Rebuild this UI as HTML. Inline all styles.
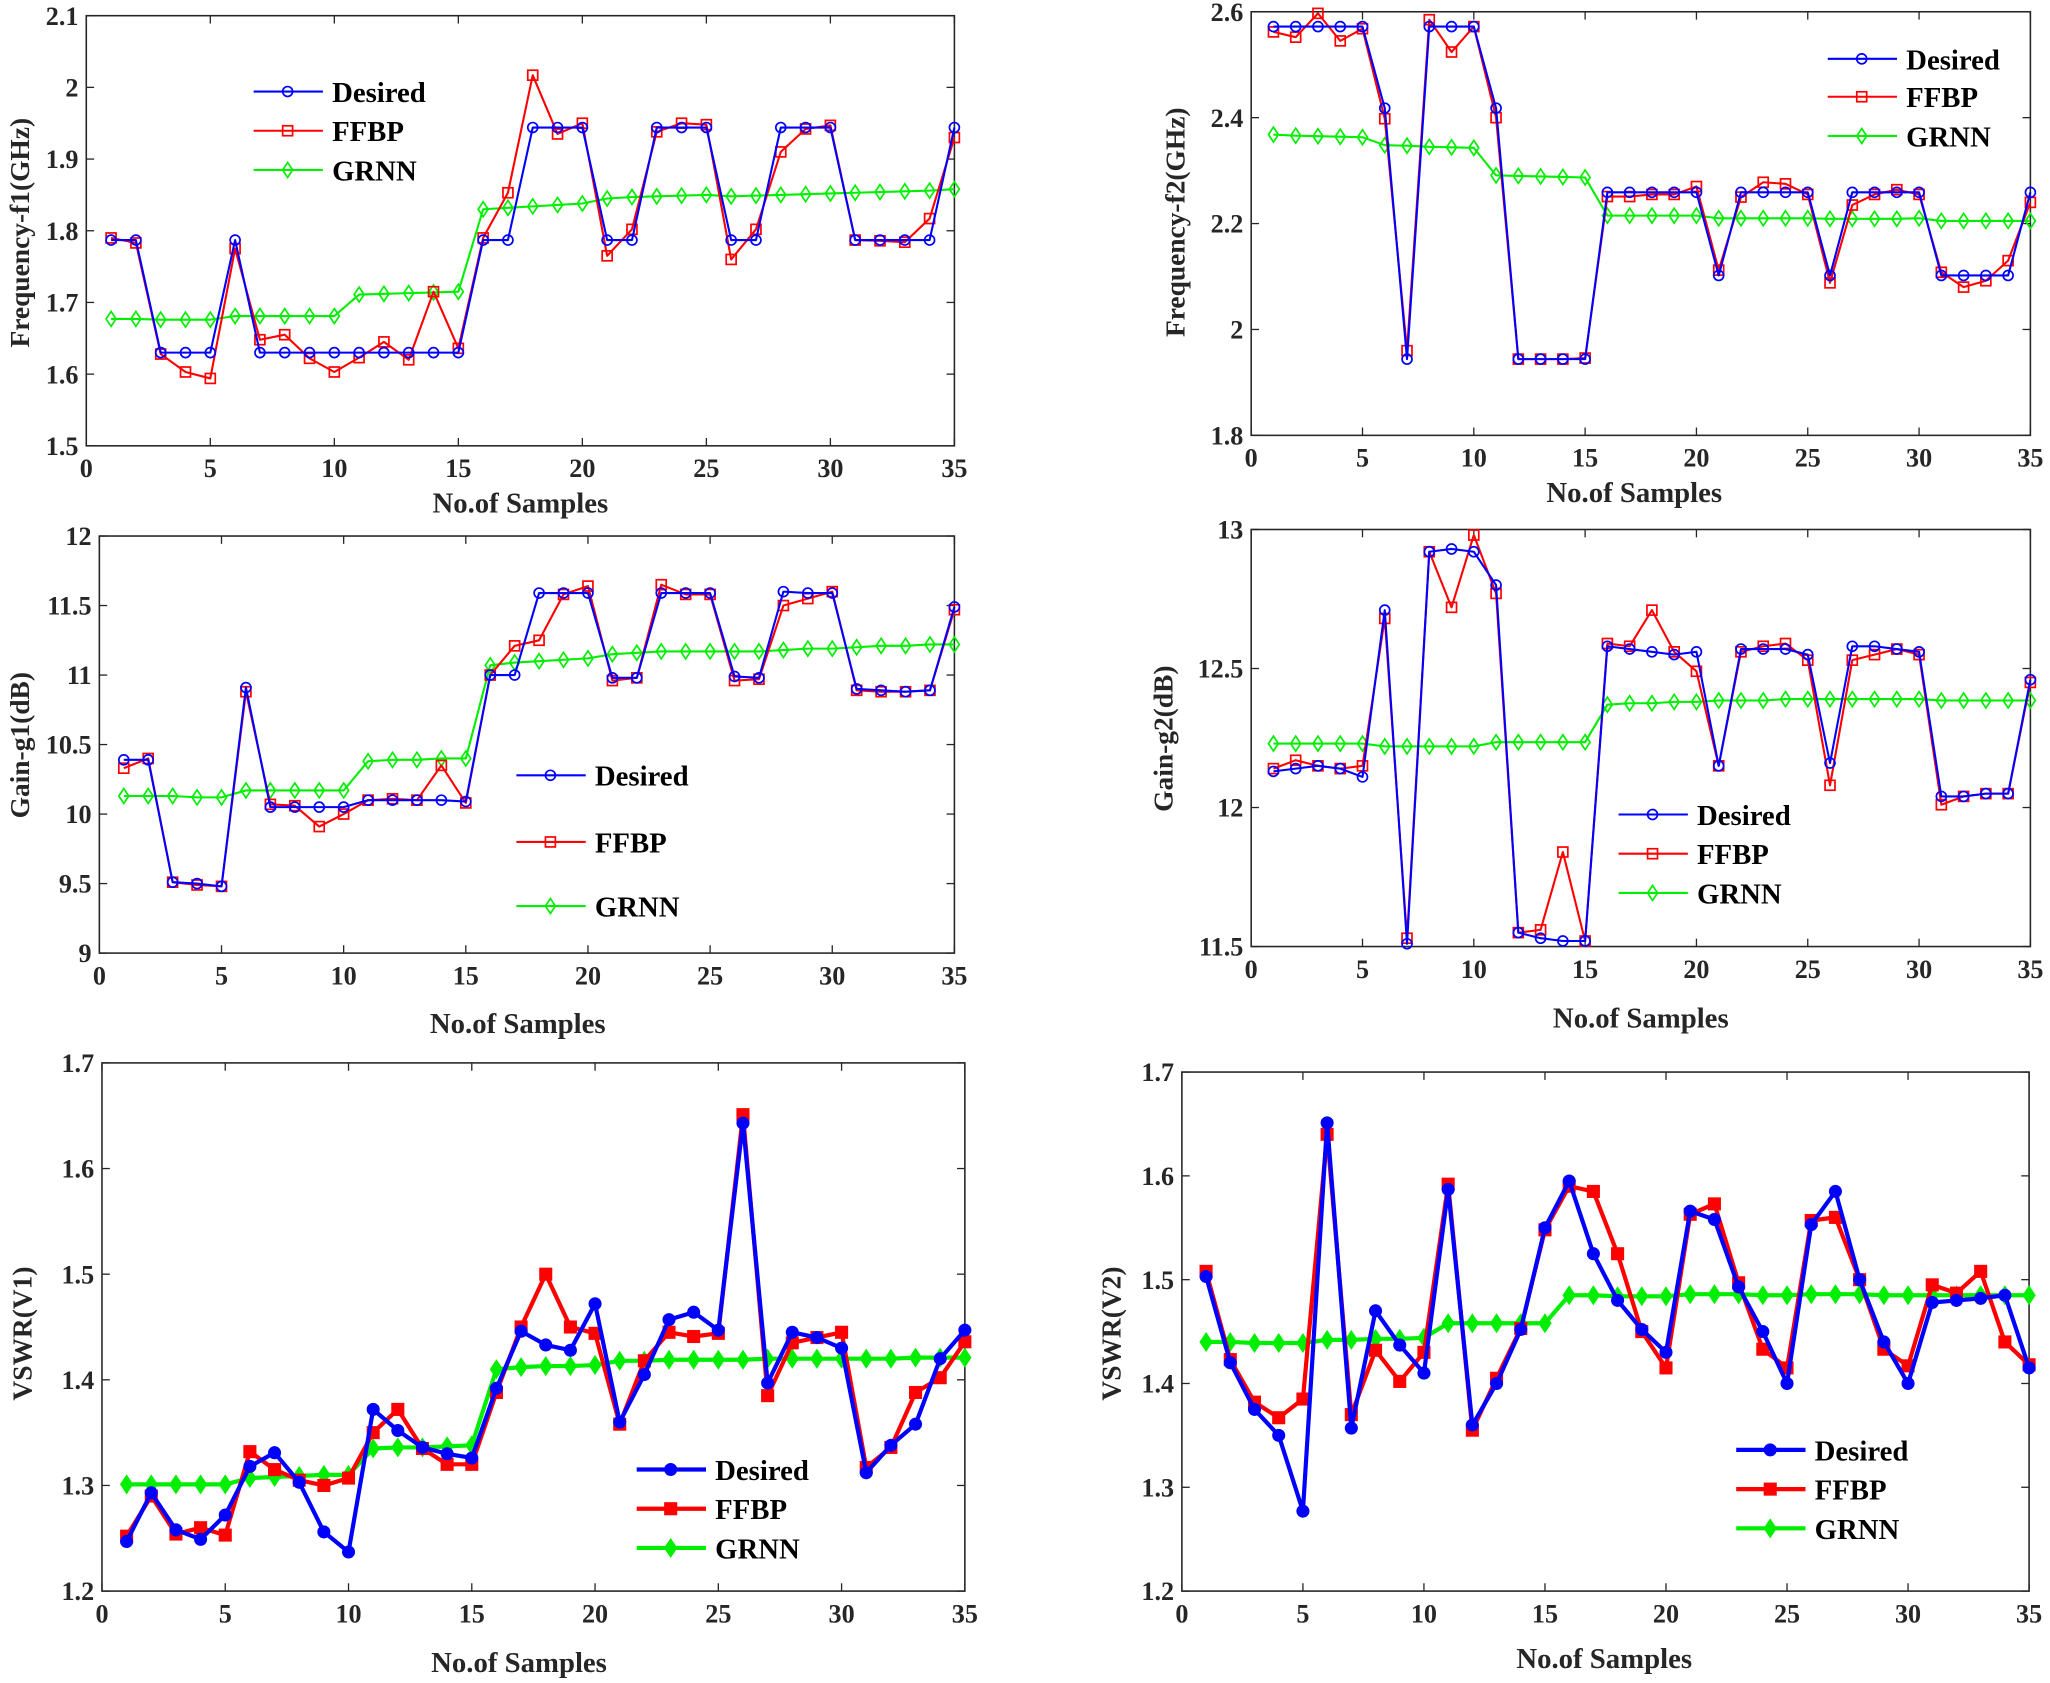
<!DOCTYPE html>
<html><head><meta charset="utf-8"><style>
html,body{margin:0;padding:0;background:#fff;}
svg{display:block;font-family:"Liberation Serif",serif;font-weight:bold;}
</style></head><body>
<svg id="fig" xmlns="http://www.w3.org/2000/svg" width="2050" height="1683" viewBox="0 0 1568 1287.3" preserveAspectRatio="none"></svg>
<script>
const xCats = [1,2,3,4,5,6,7,8,9,10,11,12,13,14,15,16,17,18,19,20,21,22,23,24,25,26,27,28,29,30,31,32,33,34,35];
const xTicks = [0,5,10,15,20,25,30,35];
const seriesNames = ["Desired","FFBP","GRNN"];

const f1Desired = [1.787,1.787,1.63,1.63,1.63,1.787,1.63,1.63,1.63,1.63,1.63,1.63,1.63,1.63,1.63,1.787,1.787,1.944,1.944,1.944,1.787,1.787,1.944,1.944,1.944,1.787,1.787,1.944,1.944,1.944,1.787,1.787,1.787,1.787,1.944];
const f1Ffbp = [1.79,1.783,1.628,1.603,1.594,1.775,1.648,1.655,1.622,1.603,1.623,1.645,1.62,1.715,1.636,1.79,1.853,2.017,1.935,1.95,1.765,1.802,1.938,1.95,1.948,1.76,1.802,1.91,1.942,1.947,1.787,1.786,1.784,1.817,1.93];
const f1Grnn = [1.677,1.677,1.676,1.676,1.676,1.681,1.681,1.681,1.681,1.681,1.711,1.712,1.713,1.714,1.715,1.83,1.832,1.834,1.836,1.838,1.845,1.847,1.848,1.849,1.85,1.848,1.849,1.85,1.851,1.852,1.853,1.854,1.855,1.856,1.858];
const f1Ticks = [1.5,1.6,1.7,1.8,1.9,2,2.1];

const f2Desired = [2.572,2.572,2.572,2.572,2.572,2.418,1.944,2.572,2.572,2.572,2.418,1.944,1.944,1.944,1.944,2.259,2.259,2.259,2.259,2.259,2.102,2.259,2.259,2.259,2.259,2.102,2.259,2.259,2.259,2.259,2.102,2.102,2.102,2.102,2.259];
const f2Ffbp = [2.562,2.552,2.597,2.545,2.568,2.398,1.96,2.585,2.524,2.572,2.40,1.944,1.944,1.944,1.946,2.251,2.251,2.255,2.255,2.27,2.112,2.25,2.278,2.275,2.255,2.088,2.235,2.255,2.264,2.255,2.108,2.08,2.092,2.13,2.24];
const f2Grnn = [2.368,2.366,2.365,2.364,2.363,2.348,2.347,2.345,2.344,2.343,2.291,2.29,2.289,2.288,2.287,2.215,2.215,2.215,2.215,2.215,2.21,2.21,2.21,2.21,2.21,2.209,2.209,2.209,2.209,2.21,2.205,2.205,2.205,2.205,2.205];
const f2Ticks = [1.8,2,2.2,2.4,2.6];

const g1Desired = [10.39,10.39,9.51,9.5,9.48,10.91,10.05,10.05,10.05,10.05,10.1,10.1,10.1,10.1,10.09,11.0,11.0,11.59,11.59,11.59,10.98,10.98,11.59,11.59,11.59,10.99,10.98,11.6,11.59,11.59,10.9,10.89,10.88,10.89,11.49];
const g1Ffbp = [10.33,10.4,9.51,9.49,9.48,10.88,10.07,10.06,9.91,10.0,10.1,10.11,10.1,10.35,10.08,11.0,11.21,11.25,11.58,11.64,10.96,10.98,11.65,11.58,11.58,10.96,10.97,11.5,11.55,11.6,10.89,10.88,10.88,10.89,11.47];
const g1Grnn = [10.13,10.13,10.13,10.12,10.12,10.17,10.17,10.17,10.17,10.17,10.38,10.39,10.39,10.4,10.4,11.07,11.09,11.1,11.11,11.12,11.15,11.16,11.17,11.17,11.17,11.17,11.17,11.18,11.19,11.19,11.2,11.21,11.21,11.22,11.22];
const g1Ticks = [9,9.5,10,10.5,11,11.5,12];

const g2Desired = [12.13,12.14,12.15,12.14,12.11,12.71,11.51,12.92,12.93,12.92,12.8,11.55,11.53,11.52,11.52,12.58,12.57,12.56,12.55,12.56,12.15,12.57,12.57,12.57,12.55,12.16,12.58,12.58,12.57,12.56,12.04,12.04,12.05,12.05,12.46];
const g2Ffbp = [12.14,12.17,12.15,12.14,12.15,12.68,11.53,12.92,12.72,12.98,12.77,11.55,11.56,11.84,11.52,12.59,12.58,12.71,12.56,12.49,12.15,12.56,12.58,12.59,12.53,12.08,12.53,12.55,12.57,12.55,12.01,12.04,12.05,12.05,12.45];
const g2Grnn = [12.23,12.23,12.23,12.23,12.23,12.22,12.22,12.22,12.22,12.22,12.235,12.235,12.235,12.235,12.235,12.37,12.375,12.375,12.38,12.38,12.385,12.385,12.385,12.39,12.39,12.39,12.39,12.39,12.39,12.39,12.385,12.385,12.385,12.385,12.385];
const g2Ticks = [11.5,12,12.5,13];

const v1Desired = [1.247,1.293,1.258,1.249,1.272,1.318,1.331,1.303,1.256,1.237,1.372,1.352,1.336,1.33,1.326,1.392,1.446,1.433,1.428,1.472,1.36,1.405,1.457,1.464,1.447,1.643,1.397,1.445,1.44,1.43,1.312,1.338,1.358,1.42,1.447];
const v1Ffbp = [1.252,1.29,1.254,1.26,1.253,1.332,1.315,1.305,1.3,1.307,1.35,1.372,1.335,1.32,1.32,1.388,1.45,1.5,1.45,1.444,1.358,1.418,1.445,1.441,1.444,1.651,1.385,1.435,1.44,1.445,1.317,1.336,1.388,1.402,1.436];
const v1Grnn = [1.301,1.301,1.301,1.301,1.301,1.307,1.308,1.309,1.31,1.31,1.335,1.336,1.336,1.337,1.338,1.41,1.412,1.413,1.413,1.414,1.418,1.418,1.419,1.419,1.419,1.419,1.42,1.42,1.42,1.42,1.42,1.42,1.421,1.421,1.421];
const v1Ticks = [1.2,1.3,1.4,1.5,1.6,1.7];

const v2Desired = [1.503,1.42,1.375,1.35,1.277,1.651,1.357,1.47,1.437,1.41,1.587,1.36,1.4,1.452,1.55,1.595,1.525,1.48,1.452,1.43,1.566,1.558,1.493,1.45,1.4,1.553,1.585,1.5,1.44,1.4,1.478,1.48,1.482,1.485,1.415];
const v2Ffbp = [1.508,1.423,1.382,1.367,1.385,1.64,1.37,1.432,1.402,1.43,1.592,1.355,1.405,1.453,1.548,1.59,1.585,1.525,1.45,1.415,1.563,1.573,1.497,1.433,1.415,1.557,1.56,1.5,1.433,1.417,1.495,1.487,1.508,1.44,1.418];
const v2Grnn = [1.44,1.44,1.439,1.439,1.439,1.442,1.442,1.443,1.443,1.444,1.458,1.458,1.458,1.458,1.458,1.485,1.485,1.484,1.484,1.484,1.486,1.486,1.486,1.485,1.485,1.486,1.486,1.486,1.485,1.485,1.485,1.485,1.485,1.485,1.485];
const v2Ticks = [1.2,1.3,1.4,1.5,1.6,1.7];

const NS = "http://www.w3.org/2000/svg";
const svg = document.getElementById('fig');
function mk(tag, attrs, parent){const e=document.createElementNS(NS,tag);for(const k in attrs)e.setAttribute(k,attrs[k]);(parent||svg).appendChild(e);return e;}

const colors = ["#0000ff","#ff0000","#00ee00"];

function marker(g, type, cx, cy, color, filled, r){
  let e;
  if(type===0){ e=mk('circle',{cx:cx,cy:cy,r:r,fill:filled?color:'none',stroke:color,'stroke-width':filled?1:1.3},g); }
  else if(type===1){ e=mk('rect',{x:cx-r,y:cy-r,width:2*r,height:2*r,fill:filled?color:'none',stroke:color,'stroke-width':filled?1:1.3},g); }
  else { e=mk('polygon',{points:`${cx},${cy-r*1.5} ${cx+r},${cy} ${cx},${cy+r*1.5} ${cx-r},${cy}`,fill:filled?color:'none',stroke:color,'stroke-width':filled?1:1.3},g); }
  
  
}

function chart(cfg){
  const g = mk('g',{});
  
  
  const {x0,x1,y0,y1,ymin,ymax} = cfg;
  const sx = v => x0 + (v-0)/(35-0)*(x1-x0);
  const sy = v => y1 - (v-ymin)/(ymax-ymin)*(y1-y0);
  const box = mk('rect',{x:x0,y:y0,width:x1-x0,height:y1-y0,fill:'#fff',stroke:'#262626','stroke-width':1.2},g);
  
  
  xTicks.forEach(t=>{
    const x=sx(t);
    mk('line',{x1:x,y1:y1,x2:x,y2:y1-6,stroke:'#262626','stroke-width':1},g);
    mk('line',{x1:x,y1:y0,x2:x,y2:y0+6,stroke:'#262626','stroke-width':1},g);
    const tx=mk('text',{x:x,y:y1+24,'text-anchor':'middle','font-size':20,fill:'#262626'},g);
    tx.textContent=t;
    
    
  });
  cfg.ticks.forEach(t=>{
    const y=sy(t);
    mk('line',{x1:x0,y1:y,x2:x0+6,y2:y,stroke:'#262626','stroke-width':1},g);
    mk('line',{x1:x1,y1:y,x2:x1-6,y2:y,stroke:'#262626','stroke-width':1},g);
    const ty=mk('text',{x:x0-6,y:y+7,'text-anchor':'end','font-size':20,fill:'#262626'},g);
    ty.textContent=t;
    
    
  });
  const xl=mk('text',{x:cfg.xlx,y:cfg.xly,'text-anchor':'middle','font-size':22,fill:'#262626'},g);
  xl.textContent='No.of Samples';
  
  
  const yl=mk('text',{x:0,y:0,'text-anchor':'middle','font-size':21,fill:'#262626',transform:`translate(${cfg.ylx},${cfg.yly}) rotate(-90)`},g);
  yl.textContent=cfg.ylabel;
  
  
  const lw = cfg.filled?3.2:1.6, mr = cfg.filled?4.5:3.8;
  [cfg.s0,cfg.s1,cfg.s2].slice().reverse().forEach((s,ri)=>{
    const i = 2-ri;
    const pts = s.map((v,k)=>`${sx(xCats[k])},${sy(v)}`).join(' ');
    const pl = mk('polyline',{points:pts,fill:'none',stroke:colors[i],'stroke-width':lw,'stroke-linejoin':'round'},g);
    
    
    s.forEach((v,k)=>marker(g,i,sx(xCats[k]),sy(v),colors[i],cfg.filled,mr));
  });
  const L = cfg.legend;
  seriesNames.forEach((n,i)=>{
    const y = L.y[i];
    const lg = mk('g',{},g);
    
    
    mk('line',{x1:L.x,y1:y,x2:L.x+53,y2:y,stroke:colors[i],'stroke-width':lw},lg);
    marker(lg,i,L.x+26,y,colors[i],cfg.filled,mr);
    const t=mk('text',{x:L.x+60,y:y+8,'font-size':22,fill:'#000'},lg);
    t.textContent=n;
  });
}

chart({name:'chart-frequency-f1',x0:66,x1:730,y0:12,y1:341,ymin:1.5,ymax:2.1,ticks:f1Ticks,s0:f1Desired,s1:f1Ffbp,s2:f1Grnn,ylabel:'Frequency-f1(GHz)',ylx:22,yly:178,xlx:398,xly:392,filled:false,legend:{x:194,y:[70,100,130]}});
chart({name:'chart-frequency-f2',x0:957,x1:1553,y0:9,y1:333,ymin:1.8,ymax:2.6,ticks:f2Ticks,s0:f2Desired,s1:f2Ffbp,s2:f2Grnn,ylabel:'Frequency-f2(GHz)',ylx:906,yly:170,xlx:1250,xly:384,filled:false,legend:{x:1398,y:[45,74,104]}});
chart({name:'chart-gain-g1',x0:76,x1:730,y0:410,y1:729,ymin:9,ymax:12,ticks:g1Ticks,s0:g1Desired,s1:g1Ffbp,s2:g1Grnn,ylabel:'Gain-g1(dB)',ylx:22,yly:570,xlx:396,xly:790,filled:false,legend:{x:395,y:[593,644,693]}});
chart({name:'chart-gain-g2',x0:957,x1:1553,y0:405,y1:724,ymin:11.5,ymax:13,ticks:g2Ticks,s0:g2Desired,s1:g2Ffbp,s2:g2Grnn,ylabel:'Gain-g2(dB)',ylx:897,yly:565,xlx:1255,xly:786,filled:false,legend:{x:1238,y:[623,653,683]}});
chart({name:'chart-vswr-v1',x0:78,x1:738,y0:813,y1:1217,ymin:1.2,ymax:1.7,ticks:v1Ticks,s0:v1Desired,s1:v1Ffbp,s2:v1Grnn,ylabel:'VSWR(V1)',ylx:24,yly:1020,xlx:397,xly:1279,filled:true,legend:{x:487,y:[1124,1154,1184]}});
chart({name:'chart-vswr-v2',x0:904,x1:1552,y0:820,y1:1217,ymin:1.2,ymax:1.7,ticks:v2Ticks,s0:v2Desired,s1:v2Ffbp,s2:v2Grnn,ylabel:'VSWR(V2)',ylx:857,yly:1020,xlx:1227,xly:1276,filled:true,legend:{x:1328,y:[1109,1139,1169]}});
</script>
</body></html>
